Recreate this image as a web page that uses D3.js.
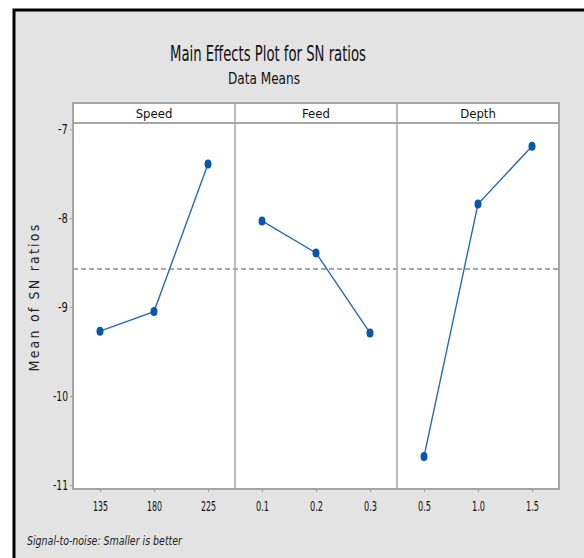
<!DOCTYPE html>
<html><head><meta charset="utf-8">
<script src="https://cdn.jsdelivr.net/npm/d3@7"></script>
<style>html,body{margin:0;padding:0;background:#fff;}svg{display:block;}</style>
</head><body>
<script>
const factors = ["Speed", "Feed", "Depth"];
const speedLevels = ["135", "180", "225"];
const feedLevels = ["0.1", "0.2", "0.3"];
const depthLevels = ["0.5", "1.0", "1.5"];
const speedMeans = [-9.27, -9.05, -7.39];
const feedMeans = [-8.03, -8.39, -9.29];
const depthMeans = [-10.68, -7.84, -7.19];
const yTicks = [-7, -8, -9, -10, -11];
const grandMean = -8.57;

const levels = [speedLevels, feedLevels, depthLevels];
const means = [speedMeans, feedMeans, depthMeans];

const W = 584, H = 558;
const svg = d3.select("body").append("svg").attr("width", W).attr("height", H);
const condensed = "'Liberation Sans Narrow','DejaVu Sans Condensed',sans-serif";

// background + frame
svg.append("rect").attr("x", 13).attr("y", 9).attr("width", W - 13).attr("height", H - 9).attr("fill", "#e3e3e3");
svg.append("path").attr("d", `M14,${H} L14,10 L${W},10`).attr("fill", "none").attr("stroke", "#000").attr("stroke-width", 3);

// titles
svg.append("text").attr("x", 268).attr("y", 61).attr("text-anchor", "middle")
  .attr("font-family", condensed).attr("font-size", 21).attr("fill", "#111")
  .attr("textLength", 196).attr("lengthAdjust", "spacingAndGlyphs")
  .text("Main Effects Plot for SN ratios");
svg.append("text").attr("x", 264).attr("y", 84).attr("text-anchor", "middle")
  .attr("font-family", condensed).attr("font-size", 15).attr("fill", "#111")
  .attr("textLength", 72).attr("lengthAdjust", "spacingAndGlyphs")
  .text("Data Means");

const plotL = 73, plotR = 559, stripT = 103, stripB = 123, plotB = 489;
const panelW = (plotR - plotL) / 3;

const y = d3.scaleLinear().domain([-7, -11]).range([129.3, 485]);

// white areas
svg.append("rect").attr("x", plotL).attr("y", stripT).attr("width", plotR - plotL).attr("height", plotB - stripT).attr("fill", "#fff");

// mean dashed line
svg.append("line").attr("x1", plotL).attr("x2", plotR).attr("y1", y(grandMean)).attr("y2", y(grandMean))
  .attr("stroke", "#8a8a8a").attr("stroke-width", 1.5).attr("stroke-dasharray", "5,3");

// y axis
const yAxis = d3.axisLeft(y).tickValues(yTicks).tickSize(3).tickPadding(2).tickFormat(d => String(d));
const yg = svg.append("g").attr("transform", `translate(${plotL},0)`).call(yAxis);
yg.select(".domain").remove();
yg.selectAll("line").attr("stroke", "#999");
yg.selectAll("text").attr("font-family", condensed).attr("font-size", 14).attr("fill", "#111")
  .attr("textLength", d => String(d).length * 5).attr("lengthAdjust", "spacingAndGlyphs");

// y label
svg.append("text").attr("transform", "translate(39,297) rotate(-90)").attr("text-anchor", "middle")
  .attr("font-family", "'DejaVu Sans Condensed',sans-serif").attr("font-size", 14).attr("fill", "#222")
  .attr("letter-spacing", 2.2).text("Mean of SN ratios");

factors.forEach((f, i) => {
  const x0 = plotL + i * panelW;
  const x = d3.scalePoint().domain(levels[i]).range([x0, x0 + panelW]).padding(0.5);
  const g = svg.append("g");
  // x axis
  const xa = d3.axisBottom(x).tickSize(3).tickPadding(9);
  const xg = g.append("g").attr("transform", `translate(0,${plotB})`).call(xa);
  xg.select(".domain").remove();
  xg.selectAll("line").attr("stroke", "#999");
  xg.selectAll("text").attr("font-family", condensed).attr("font-size", 14).attr("fill", "#111")
    .attr("textLength", d => d.includes(".") ? 13 : 15).attr("lengthAdjust", "spacingAndGlyphs");
  // strip label
  g.append("text").attr("x", x0 + panelW / 2).attr("y", 118).attr("text-anchor", "middle")
    .attr("font-family", "'DejaVu Sans Condensed',sans-serif").attr("font-size", 13).attr("fill", "#111").text(f);
  // line
  const pts = levels[i].map((l, j) => [x(l), y(means[i][j])]);
  g.append("path").attr("d", d3.line()(pts)).attr("fill", "none").attr("stroke", "#2a6ab8").attr("stroke-width", 1.4);
  g.selectAll("ellipse").data(pts).join("ellipse")
    .attr("cx", d => d[0]).attr("cy", d => d[1]).attr("rx", 3.5).attr("ry", 4.5).attr("fill", "#0a56a8");
});

// panel dividers and borders
const frame = svg.append("g").attr("fill", "none").attr("stroke", "#a6a6a6").attr("stroke-width", 2);
frame.append("rect").attr("x", plotL).attr("y", stripT).attr("width", plotR - plotL).attr("height", plotB - stripT);
frame.append("line").attr("x1", plotL).attr("x2", plotR).attr("y1", stripB).attr("y2", stripB);
for (let i = 1; i < 3; i++) {
  frame.append("line").attr("x1", plotL + i * panelW).attr("x2", plotL + i * panelW).attr("y1", stripT).attr("y2", plotB).attr("stroke-width", 1.5);
}

// footnote
svg.append("text").attr("x", 27).attr("y", 545).attr("font-family", condensed).attr("font-style", "italic")
  .attr("font-size", 13).attr("fill", "#222").attr("textLength", 155).attr("lengthAdjust", "spacingAndGlyphs")
  .text("Signal-to-noise: Smaller is better");
</script>
</body></html>
